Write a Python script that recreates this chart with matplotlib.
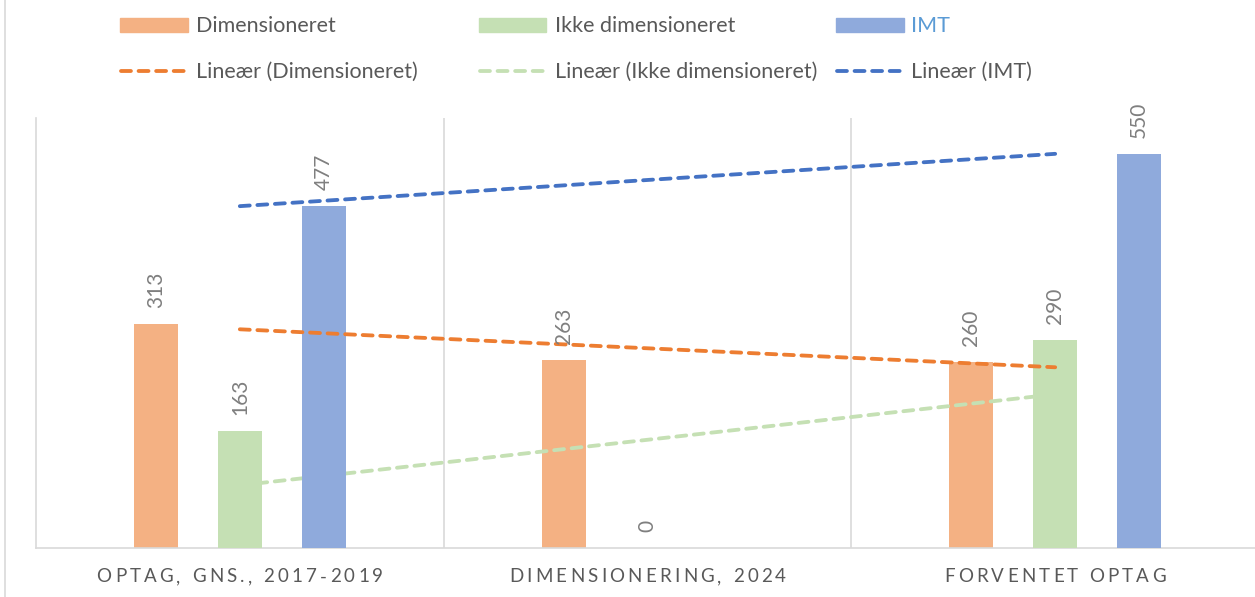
import numpy as np
import matplotlib.pyplot as plt
from matplotlib.lines import Line2D
from matplotlib.patches import Rectangle
from matplotlib.font_manager import FontProperties

# data
categories = ["OPTAG, GNS., 2017-2019", "DIMENSIONERING, 2024", "FORVENTET OPTAG"]
dimensioneret = [313, 263, 260]
ikke_dim = [163, 0, 290]
imt = [477, np.nan, 550]

series_names = ["Dimensioneret", "Ikke dimensioneret", "IMT"]
bar_colors = ["#F4B183", "#C5E0B4", "#8FAADC"]
line_colors = ["#ED7D31", "#C5E0B4", "#4472C4"]
label_gray = "#7F7F7F"
text_gray = "#595959"
grid_gray = "#D9D9D9"

plt.rcParams['font.family'] = ['Lato', 'DejaVu Sans']

W, H = 1255, 597
fig = plt.figure(figsize=(W / 100, H / 100), dpi=100)


def fx(px):
    return px / W


def fy(py):
    return 1 - py / H


ax = fig.add_axes([fx(36), fy(548), fx(1259) - fx(36), fy(118) - fy(548)])
ax.set_xlim(0.5, 3.5)
ax.set_ylim(0, 600)

x = np.arange(1, len(categories) + 1)
offsets = [-0.206, 0, 0.206]
width = 0.108
all_series = [dimensioneret, ikke_dim, imt]
bar_z = [2, 3, 3]
line_z = [4, 2.5, 4]

for vals, off, col, bz in zip(all_series, offsets, bar_colors, bar_z):
    vals = np.array(vals, dtype=float)
    ok = ~np.isnan(vals)
    ax.bar(x[ok] + off, vals[ok], width=width, color=col, zorder=bz)
    for xi, v in zip(x[ok] + off, vals[ok]):
        ax.annotate(f"{v:.0f}", (xi, v), xytext=(0, 11.5), textcoords="offset points",
                    rotation=90, ha="center", va="bottom", color=label_gray,
                    fontsize=15, zorder=5)

# linear trend lines
for vals, col, lz in zip(all_series, line_colors, line_z):
    vals = np.array(vals, dtype=float)
    ok = ~np.isnan(vals)
    k, b = np.polyfit(x[ok], vals[ok], 1)
    xs = np.array([x[0], x[-1]])
    ax.plot(xs, k * xs + b, color=col, lw=2.75, ls=(0, (2.6, 2.0)),
            dash_capstyle="round", zorder=lz)

# axes styling
for s in ["top", "right"]:
    ax.spines[s].set_visible(False)
ax.spines["left"].set_color(grid_gray)
ax.spines["bottom"].set_color(grid_gray)
ax.spines["left"].set_linewidth(1.2)
ax.spines["bottom"].set_linewidth(1.2)
ax.set_yticks([])
ax.set_xticks([])
for bx in [1.5, 2.5, 3.5]:
    ax.axvline(bx, color=grid_gray, lw=1.2, zorder=1)

# letter-spaced category labels
renderer = fig.canvas.get_renderer()
cat_prop = FontProperties(family=['Lato', 'DejaVu Sans'], size=13.5)
spacing = 3.2  # px between letters
for xi, cat in zip(x, categories):
    widths = [renderer.get_text_width_height_descent(ch, cat_prop, ismath=False)[0]
              if ch != " " else 5.0 for ch in cat]
    total = sum(widths) + spacing * (len(cat) - 1)
    cx = ax.transData.transform((xi, 0))[0]
    left = cx - total / 2
    for ch, w in zip(cat, widths):
        fig.text(left / W, fy(577), ch, ha="left", va="center", color=text_gray,
                 fontproperties=cat_prop)
        left += w + spacing

# left chart border
fig.add_artist(Line2D([fx(5), fx(5)], [0, 1], color=grid_gray, lw=1.2))

# legend (drawn by hand, Excel-style uneven columns)
patch_x = [(120, 188), (479, 546), (836, 904)]
text_x = [196, 555, 911]
legend_text_colors = [text_gray, text_gray, "#5B9BD5"]
for i in range(3):
    x0, x1 = patch_x[i]
    fig.add_artist(Rectangle((fx(x0), fy(32)), fx(x1) - fx(x0), fy(18) - fy(32),
                             transform=fig.transFigure, color=bar_colors[i]))
    fig.text(fx(text_x[i]), fy(26.5), series_names[i], ha="left", va="center",
             color=legend_text_colors[i], fontsize=15.5)
    fig.add_artist(Line2D([fx(x0 + 1), fx(x1 - 1)], [fy(71), fy(71)], color=line_colors[i],
                          lw=2.75, ls=(0, (2.6, 2.0)), dash_capstyle="round"))
    fig.text(fx(text_x[i]), fy(72), f"Lineær ({series_names[i]})", ha="left", va="center",
             color=text_gray, fontsize=15.5)

fig.savefig("out.png", dpi=100)
